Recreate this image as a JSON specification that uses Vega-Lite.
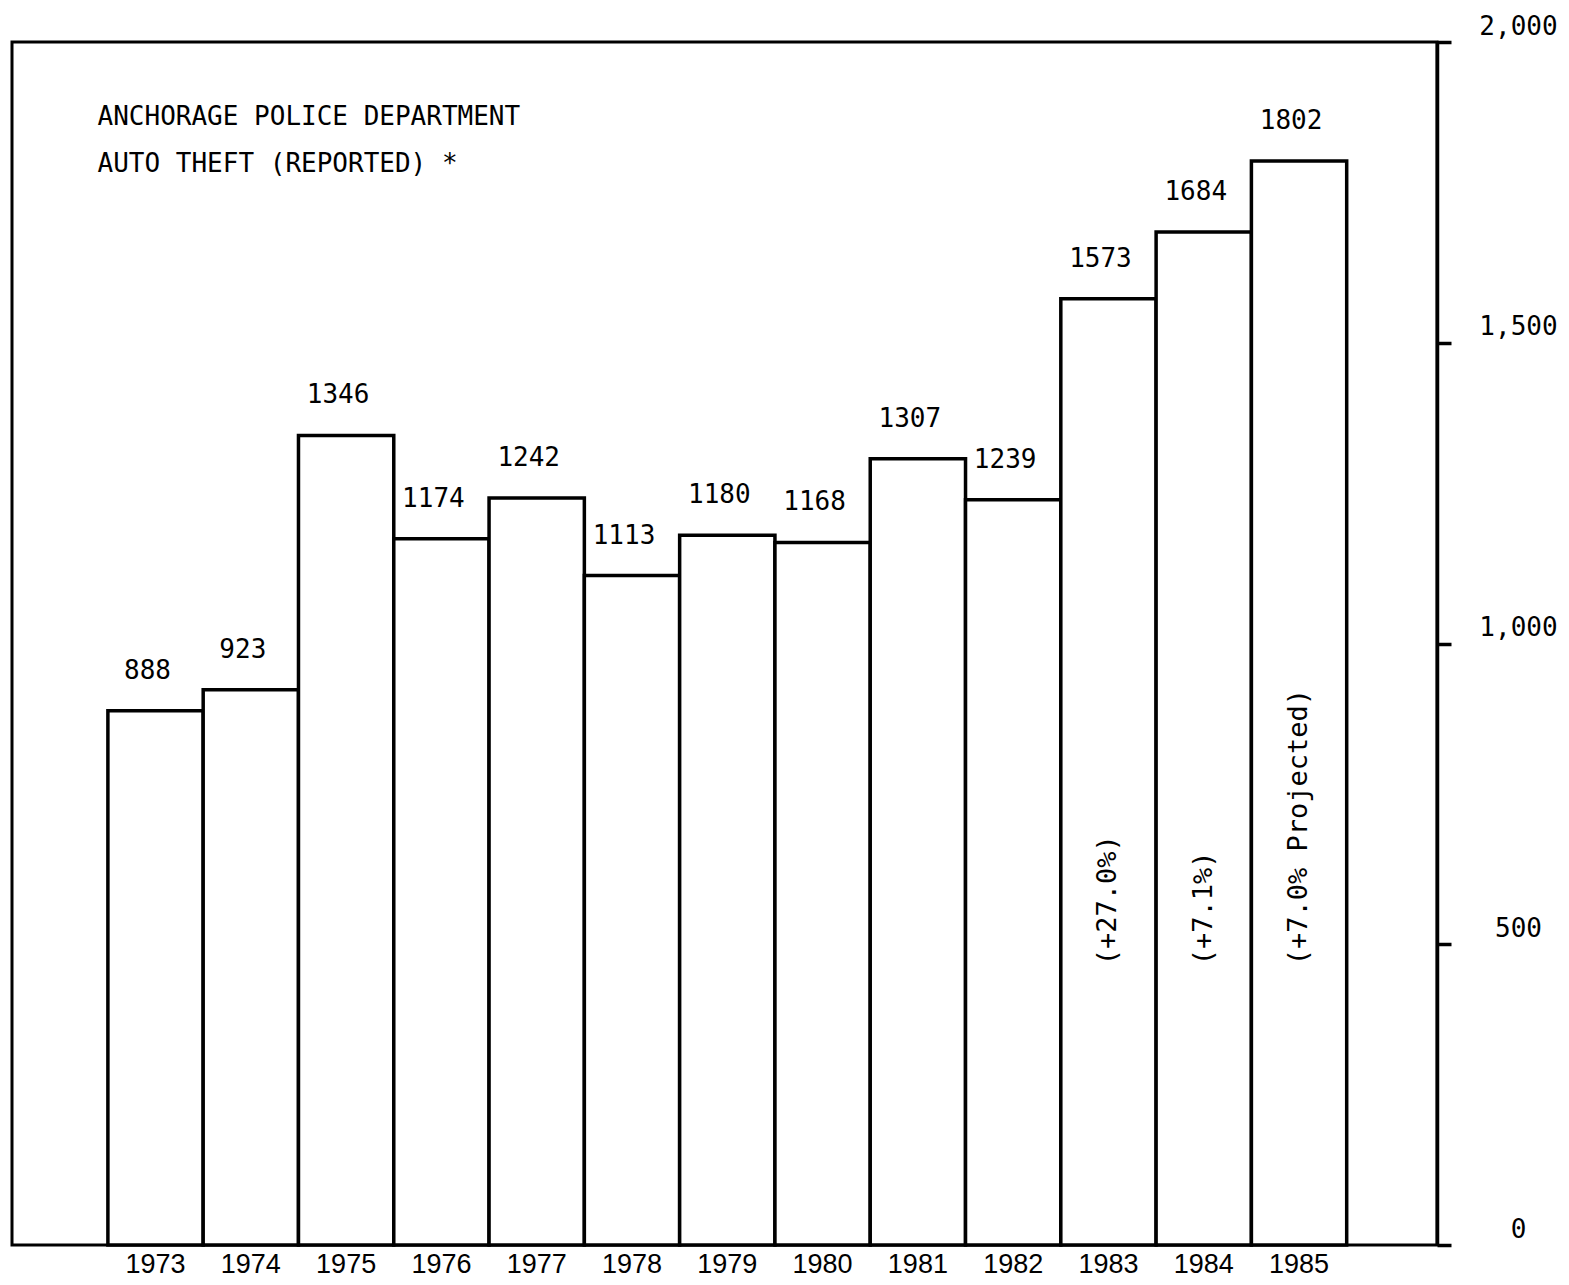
{
  "$schema": "https://vega.github.io/schema/vega-lite/v6.json",
  "autosize": {"type": "none"},
  "padding": {"left": 12, "top": 42, "right": 132, "bottom": 40},
  "width": 1425,
  "height": 1203,
  "background": "white",
  "config": {
    "view": {"stroke": "black", "strokeWidth": 3},
    "font": "DejaVu Sans Mono"
  },
  "data": {
    "values": [
      {"year": "1973", "thefts": 888, "note": ""},
      {"year": "1974", "thefts": 923, "note": ""},
      {"year": "1975", "thefts": 1346, "note": ""},
      {"year": "1976", "thefts": 1174, "note": ""},
      {"year": "1977", "thefts": 1242, "note": ""},
      {"year": "1978", "thefts": 1113, "note": ""},
      {"year": "1979", "thefts": 1180, "note": ""},
      {"year": "1980", "thefts": 1168, "note": ""},
      {"year": "1981", "thefts": 1307, "note": ""},
      {"year": "1982", "thefts": 1239, "note": ""},
      {"year": "1983", "thefts": 1573, "note": "(+27.0%)"},
      {"year": "1984", "thefts": 1684, "note": "(+7.1%)"},
      {"year": "1985", "thefts": 1802, "note": "(+7.0% Projected)"}
    ]
  },
  "encoding": {
    "x": {
      "field": "year",
      "type": "ordinal",
      "scale": {"paddingInner": 0, "paddingOuter": 0.977, "align": 0.515},
      "axis": {
        "title": null,
        "domain": false,
        "ticks": false,
        "labelAngle": 0,
        "labelPadding": 6,
        "labelBaseline": "top",
        "labelFont": "Liberation Sans",
        "labelFontSize": 27,
        "labelColor": "black"
      }
    }
  },
  "layer": [
    {
      "mark": {"type": "bar", "fill": "white", "stroke": "black", "strokeWidth": 3.5},
      "encoding": {
        "y": {
          "field": "thefts",
          "type": "quantitative",
          "scale": {"domain": [0, 2000], "nice": false},
          "axis": {
            "orient": "right",
            "title": null,
            "grid": false,
            "values": [0, 500, 1000, 1500, 2000],
            "format": ",d",
            "domain": true,
            "domainColor": "black",
            "domainWidth": 3.5,
            "ticks": true,
            "tickSize": 14,
            "tickWidth": 3.5,
            "tickColor": "black",
            "labelAlign": "center",
            "labelBaseline": "middle",
            "labelPadding": 67,
            "labelOffset": -16,
            "labelFont": "DejaVu Sans Mono",
            "labelFontSize": 26,
            "labelColor": "black"
          }
        }
      }
    },
    {
      "mark": {"type": "text", "baseline": "middle", "align": "center", "dy": -40, "dx": -8, "fontSize": 26, "font": "DejaVu Sans Mono", "color": "black"},
      "encoding": {
        "y": {"field": "thefts", "type": "quantitative"},
        "text": {"field": "thefts", "type": "quantitative", "format": "d"}
      }
    },
    {
      "transform": [{"filter": "datum.note != ''"}],
      "mark": {"type": "text", "angle": 270, "align": "left", "baseline": "middle", "fontSize": 27, "font": "DejaVu Sans Mono", "color": "black"},
      "encoding": {
        "y": {"datum": 465, "type": "quantitative"},
        "text": {"field": "note"}
      }
    },
    {
      "data": {"values": [{"line1": "ANCHORAGE POLICE DEPARTMENT", "line2": "AUTO THEFT (REPORTED)  *"}]},
      "mark": {"type": "text", "align": "left", "baseline": "middle", "dx": -58, "fontSize": 26, "font": "DejaVu Sans Mono", "color": "black"},
      "encoding": {
        "x": {"datum": "1973"},
        "y": {"datum": 1875, "type": "quantitative"},
        "text": {"field": "line1"}
      }
    },
    {
      "data": {"values": [{"line1": "ANCHORAGE POLICE DEPARTMENT", "line2": "AUTO THEFT (REPORTED)  *"}]},
      "mark": {"type": "text", "align": "left", "baseline": "middle", "dx": -58, "fontSize": 26, "font": "DejaVu Sans Mono", "color": "black"},
      "encoding": {
        "x": {"datum": "1973"},
        "y": {"datum": 1798, "type": "quantitative"},
        "text": {"field": "line2"}
      }
    }
  ]
}
